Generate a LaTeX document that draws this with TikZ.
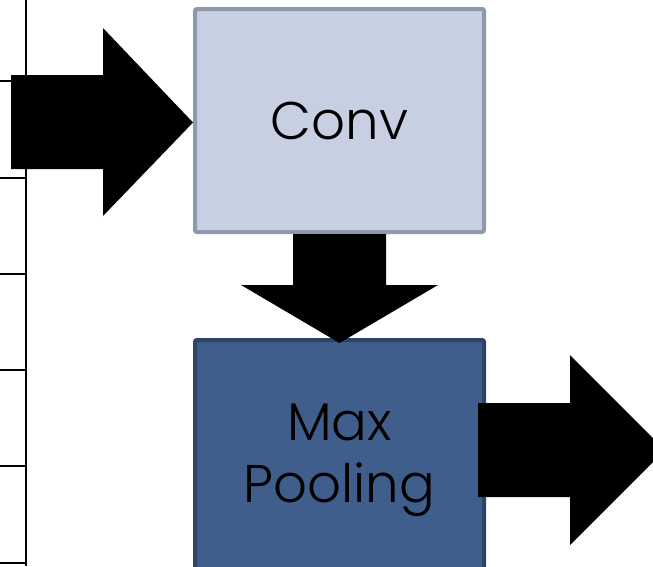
\documentclass[tikz,border=0pt]{standalone}
\usepackage{fontspec}
\setmainfont{Poppins}[UprightFont=* Light]
\usetikzlibrary{calc}
\definecolor{convfill}{HTML}{C7CFE2}
\definecolor{convline}{HTML}{8E99AB}
\definecolor{poolfill}{HTML}{405E8C}
\definecolor{poolline}{HTML}{2E4466}
\tikzset{
  gridline/.style={draw=black, line width=2pt},
  layerbox/.style={rectangle, rounded corners=2pt, line width=4pt,
    minimum width=289pt, align=center, inner sep=0pt,
    font=\fontsize{53}{62}\selectfont},
  convbox/.style={layerbox, draw=convline, fill=convfill, minimum height=223pt},
  poolbox/.style={layerbox, draw=poolline, fill=poolfill, minimum height=240pt},
  blockarrow/.style={fill=black},
}
\begin{document}
\begin{tikzpicture}[x=1pt, y=-1pt]
\useasboundingbox (0,0) rectangle (653,566);
\clip (0,0) rectangle (653,566);

% edge of the input grid
\draw[gridline] (25.5,0) -- (25.5,566);
\foreach \yy in {81,178,274,370,466,563}
  \draw[gridline] (0,\yy) -- (26,\yy);

% layers
\node[convbox] (conv) at (339.5,120.5) {\raisebox{-2pt}{Conv}};
\node[poolbox] (pool) at (339.5,460) {Max\\Pooling};

% input arrow into the convolution
\fill[blockarrow] ($(conv.west)+(0,2)$) -- ++(-90,-94.5) -- ++(0,47) -- ++(-92,0)
  -- ++(0,94) -- ++(92,0) -- ++(0,47) -- cycle;

% convolution to pooling
\fill[blockarrow] ($(pool.north)+(0,5)$) -- ++(-98.5,-58) -- ++(52,0) -- ++(0,-51)
  -- ++(93,0) -- ++(0,51) -- ++(52,0) -- cycle;

% output arrow out of the pooling layer
\fill[blockarrow] ($(pool.east)+(-8,-10)$) -- ++(0,-47) -- ++(92,0) -- ++(0,-48)
  -- ++(95,95) -- ++(-95,95) -- ++(0,-48) -- ++(-92,0) -- cycle;
\end{tikzpicture}
\end{document}
